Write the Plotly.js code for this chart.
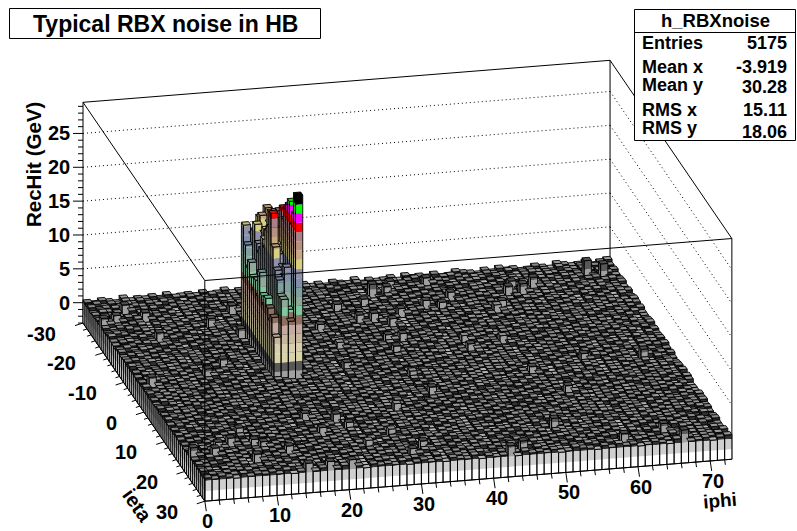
<!DOCTYPE html>
<html><head><meta charset="utf-8">
<script src="https://cdn.plot.ly/plotly-3.0.1.min.js"></script>
<style>html,body{margin:0;padding:0;background:#fff}#c{width:797px;height:531px}</style></head>
<body><div id="c"></div>
<script>
// --- values read (estimated) from the picture ---
const ietaRange=[-30,30], iphiRange=[0,73], zRange=[-3,29.6];
const floorUnit=0.12;
const floorRows=[
"3142051324150231402513042315024130421503124052314015320415230142053124035",
"1403251420315041253014250314205132041530214035120453102431502413052140312",
"4120352140531024315021403512042315304125031420514302153041203514203152041",
"0315240135024312504123051402531420135042153140253012450312403215041320514",
"2503142051304215301240352104312503421053124015230415320140523014251302451",
"1342015324105231405120342513024510342150231451032140523104253140215034120",
"3051421032514023150421305241503120451302514035214032510423015240315210453",
"2413052314205140321504132051423150243105214503120534102531420153042315024",
"0521340251304125031452013240513421053021450312405213540120342513024105231",
"4132050421352014023514203105241350312402514023150412305214032510342150231",
"1205341023514203150243152041305124032154013250413052143012540321405213054",
"3420152041325014250314021532405130241503214502314051230145230415203142051",
"5013241530420135204130251402531042153120453120351402415032150234105324013",
"2340512403150241350213425013204153024135021450312540213045132402510314205",
"1452032150423140512035214025310452130542013524130251403125041352041302154",
"0231540213405321402513041250314205324153021405213540231504213052140351240",
"3514205130241530412053124035120453140215034125031420514302153104235014325",
"4025131420512043150321405214350120345120341520314025130421503214051324052",
"1342504132051423014521034125302514032514203150421305241530412035124031502",
"2051340253104215034120513240153204135021453102451320415230145203124053102",
"3420152403125041352014305124015320412530142503140251402315042135042130514",
"0135241503214052130452103421503124035214053102435120341250314021532401325",
"5240312504231052143015230451320145230415320142051324105213405120341523042",
"1302451320514203152041305214035124503120453140215034120351420351204315024",
"4213052140351240315241023514203150243150214013052140531024315025140321052",
"2504132415023150421305241530412053124032154013250413052143012540321405213",
"0341205231450321504123054120314205130241532041250314021532405130241503214",
"3152404132501425031402153240513024150321450231405123014523041520314205102",
"1420351024153021340512403152041350213425013204153024135021450312540213045",
"5023142051302514032514203150421305241503124013524130251403125041352041302",
"2314053124035214025310452130542013524130251403125041352041302154023154021",
"4105231405213540231504213052140351240351420513024153041205312403512045314",
"0253142035120341520314025130421503214051324052025130142051204315032140521",
"3142501325041320514230145210341253025140325142031504213052415304120351240",
"1530420514023513402531042150341205132401532041350214531024513204152301452",
"2041325140213045321540132054120314205130241532041250314021532405130241503",
"4320153024513240152013425103421502312405214053102435120341250314021532401",
"0514203412504213052140351240315241023514203150243150214013052140531024315",
"3205142304152032140523104253140215034120452103421503124035214053102435120",
"1423015240315210453120351402415032150234105324013250413052143012540321405",
"5102431502413052140312053412035124503120453140215034120351420351204315024",
"2340153204135210453014203512045314025314205130241530412053124035120453140",
"0421530142053124035120453102431502413052140312234051240315024135021342501",
"3150243105214503120534102531420153042315024132050421352014023514203105241",
"1205413025140321052421305214035124315241023514203150243150214013052140531",
"4032150231405123014523041520314205102534204152031402513042150321405132405",
"2513024510342150231451032140523104253140215034120314250132504132051423014",
"0341253051421032514023150421305241503120451302514035214032510423015240315",
"3204150324105324013014250314205132041530214035120453102431502413052140312",
"1542031250341203145023140513042315024130421503124052314015320415230142053",
"2053140251304125031452013240513421053021450312405213540120342513024105231",
"4130512403152410235142031502431502140130521405310243150251403210524132050",
"0421350214531024513204152301452030514213025140321052034125302514032514203",
"3152043150214013052140531024315025140321052413205042135201402351420310524",
"1305241024153021340512403150421305214035124031524102351420315024315021401",
"5240135024312504123051402531420135042153140253012450312403215041320514031",
"2103425013204153024135021450312540213045132402510314205145203215042314051",
"4015320415230142053124035314205130241530412035124031502420513240253104215",
"0324105231405120342513024510342150231451032140523104253140215034120314250",
"3142051324150231402513042315024130421503124052314015320415230142053124035"
];
const bumpIeta=[-26,-22,-23,-23,-16,-19,-6,-3,-2,-15,22,22,-23,-26,-25,-24,-22,-22,2,22,26,29,28,29,28,11,4,1,-25,-25,-22,-21,-10,-2,13,18,8,-5,25,29,
 -27,-27,-22,-17,-17,-18,-15,-20,-19,-17,-18,-24,-6,-10,-8,-7,-15,-9,2,14,17,21,23,25,29,29,27,23,20,20,19,20,12,16];
const bumpIphi=[4,0,2,6,6,14,12,9,1,17,0,3,18,68,70,60,58,56,68,50,64,66,44,42,58,55,52,60,38,40,48,32,38,28,18,19,37,46,31,20,
 41,46,36,34,36,40,38,44,46,53,54,57,36,36,46,51,28,29,36,22,23,10,13,8,14,17,29,24,28,4,6,9,31,8];
const bumpHeight=[1.5,1.6,1.4,1.5,1.6,1.7,1.6,1.7,1.6,1.7,1.8,1.5,1.5,2.6,2.4,1.7,1.8,1.6,1.8,1.9,1.7,1.9,1.7,1.6,1.6,1.5,1.5,1.4,2.1,1.6,1.4,1.4,1.4,1.5,1.4,1.4,1.5,1.4,1.5,1.4,
 1.4,1.5,1.4,1.4,1.5,1.4,1.4,1.4,1.4,1.3,1.4,1.4,1.5,1.4,1.3,1.3,1.4,1.3,1.3,1.4,1.4,1.4,1.4,1.5,1.4,1.4,1.4,1.3,1.3,1.4,1.4,1.4,1.3,1.4];
const towerIphi=[18,19,20,21];
const towerFirstIeta=-16;
const towerHeights=[
[16.5,15.0,17.5,18.8],[14.0,16.0,18.2,17.0],[11.0,17.4,16.0,19.0],[12.3,15.0,17.0,18.0],
[10.5,14.0,16.0,20.0],[9.0,15.0,18.0,19.0],[11.0,17.0,15.0,21.0],[9.0,16.0,19.0,20.0],
[13.0,19.0,17.0,22.3],[10.0,20.0,16.0,21.0],[9.0,22.5,14.0,23.0],[10.5,18.0,15.0,24.0],
[9.5,15.0,14.0,25.0],[8.0,14.0,15.8,22.0],[9.0,12.0,10.0,24.0],[6.5,12.0,8.7,27.2]];
const bandEdges=[-3,-1.5,0,1.36,2.72,4.08,5.44,6.8,8.16,9.52,10.88,12.24,13.6,14.96,16.32,17.68,19.04,20.4,21.76,23.12,24.48,25.84,27.2,40];
const bandColors=["#ffffff","#cfcfcf","#a0a0a0","#585858","#d8d4a8","#d8cfae","#c8b8a0","#c4aaa0","#8e7060","#80c8a0","#8eaa98","#80a0a0","#8090a8","#9090a8","#d8d080","#c8a880","#b89080","#a88088","#ff0000","#ff00ff","#00ff00","#000000","#000000"];
const floorTopColors=["#b4b4b4","#949494","#8c8c8c","#848484","#888888","#989898"];
const zTicks=[0,5,10,15,20,25];
const ietaTicks=[-30,-20,-10,0,10,20,30];
const iphiTicks=[0,10,20,30,40,50,60,70];
const statsNames=["Entries","Mean x","Mean y","RMS x","RMS y"];
const statsValues=["5175","-3.919","30.28","15.11","18.06"];

// --- parallel projection of the lego box onto the page ---
const px=(p,e)=>83+7.22*(p-iphiRange[0])+2.03*(e-ietaRange[0]);
const py=(p,e,z)=>323-0.575*(p-iphiRange[0])+2.97*(e-ietaRange[0])-(z-zRange[0])*6.77;

const nE=ietaRange[1]-ietaRange[0], nP=iphiRange[1]-iphiRange[0];
const H=[], D=[];
for(let r=0;r<nE;r++){const row=[],dr=[];for(let c=0;c<nP;c++){row.push(+floorRows[r][c]*floorUnit+0.05);dr.push(+floorRows[r][c]);}H.push(row);D.push(dr);}
bumpIeta.forEach((e,i)=>{H[e-ietaRange[0]][bumpIphi[i]]=bumpHeight[i];});
towerHeights.forEach((row,r)=>row.forEach((h,c)=>{H[towerFirstIeta+r-ietaRange[0]][towerIphi[c]]=h;}));

function shade(hex,f){const n=parseInt(hex.slice(1),16);return "rgb("+[(n>>16)&255,(n>>8)&255,n&255].map(v=>Math.round(v*f)).join(",")+")";}
function bandIndex(z){let k=0;while(k<bandColors.length-1&&z>=bandEdges[k+1])k++;return k;}
const traces=[];
const lineTrace=(x,y,w,dash,col)=>({type:"scatter",mode:"lines",x,y,line:{color:col||"#000",width:w,dash:dash||"solid",simplify:false},hoverinfo:"skip",showlegend:false});
function seg(list){const x=[],y=[];list.forEach(s=>{x.push(s[0],s[2],null);y.push(s[1],s[3],null);});return {x,y};}

// back walls and z grid
const pMin=iphiRange[0],pMax=iphiRange[1],eMin=ietaRange[0],eMax=ietaRange[1],zMin=zRange[0],zMax=zRange[1];
const P=(p,e,z)=>[px(p,e),py(p,e,z)];
function L(a,b){return [a[0],a[1],b[0],b[1]];}
const gridS=[];
zTicks.slice(1).forEach(z=>{gridS.push(L(P(pMin,eMin,z),P(pMax,eMin,z)));gridS.push(L(P(pMax,eMin,z),P(pMax,eMax,z)));});
let s=seg(gridS);traces.push(lineTrace(s.x,s.y,1,"1px,3px"));
s=seg([L(P(pMin,eMin,zMin),P(pMin,eMin,zMax)),L(P(pMin,eMin,zMax),P(pMax,eMin,zMax)),L(P(pMax,eMin,zMin),P(pMax,eMin,zMax)),L(P(pMax,eMin,zMax),P(pMax,eMax,zMax)),L(P(pMax,eMax,zMin),P(pMax,eMax,zMax))]);
traces.push(lineTrace(s.x,s.y,1));

// bars, back row to front row
function add(bucket,key,col,pts){if(!bucket.has(key))bucket.set(key,{col,x:[],y:[]});const b=bucket.get(key);pts.forEach(q=>{b.x.push(q[0]);b.y.push(q[1]);});b.x.push(pts[0][0],null);b.y.push(pts[0][1],null);}
for(let r=0;r<nE;r++){
  const e0=eMin+r,e1=e0+1;
  const sides=new Map(),tops=new Map();const ex=[],ey=[];
  for(let c=nP-1;c>=0;c--){
    const p0=pMin+c,p1=p0+1,h=H[r][c];
    const hL=c>0?H[r][c-1]:zMin, hF=r<nE-1?H[r+1][c]:zMin;
    const low=h<0.9;
    const face=(lo,ax,ae,bx,be,f)=>{
      if(h<=lo)return;
      for(let k=bandIndex(lo);k<bandColors.length&&bandEdges[k]<h;k++){
        const a=Math.max(lo,bandEdges[k]),b=Math.min(h,bandEdges[k+1]);if(b<=a)continue;
        const g=(low&&k>=2)?0.3:f;
        add(sides,bandColors[k]+g,shade(bandColors[k],g),[P(ax,ae,a),P(bx,be,a),P(bx,be,b),P(ax,ae,b)]);
      }
      const o=[P(ax,ae,lo),P(bx,be,lo),P(bx,be,h),P(ax,ae,h),P(ax,ae,lo)];
      o.forEach(q=>{ex.push(q[0]);ey.push(q[1]);});ex.push(null);ey.push(null);
    };
    face(hL,p0,e0,p0,e1,0.78);
    face(hF,p0,e1,p1,e1,1);
    const k=bandIndex(h);
    const key=low?D[r][c]*0.01:k;
    const col=low?floorTopColors[D[r][c]]:shade(bandColors[k],0.9);
    add(tops,key,col,[P(p0,e0,h),P(p1,e0,h),P(p1,e1,h),P(p0,e1,h)]);
  }
  sides.forEach(b=>traces.push({type:"scatter",mode:"lines",x:b.x,y:b.y,fill:"toself",fillcolor:b.col,line:{width:0,color:b.col,simplify:false},hoverinfo:"skip",showlegend:false}));
  traces.push(lineTrace(ex,ey,0.9));
  [...tops.keys()].sort((a,b)=>a-b).forEach(k=>{const b=tops.get(k);traces.push({type:"scatter",mode:"lines",x:b.x,y:b.y,fill:"toself",fillcolor:b.col,line:{width:0.9,color:"#000",simplify:false},hoverinfo:"skip",showlegend:false});});
}

// front frame and axes
s=seg([L(P(pMin,eMin,zMax),P(pMin,eMax,zMax)),L(P(pMin,eMax,zMax),P(pMax,eMax,zMax)),L(P(pMin,eMax,zMin),P(pMin,eMax,zMax)),L(P(pMin,eMin,zMin),P(pMin,eMax,zMin)),L(P(pMin,eMax,zMin),P(pMax,eMax,zMin))]);
traces.push(lineTrace(s.x,s.y,1));
const tickS=[];
const annotations=[];
const T=(text,x,y,size,anchor,rot)=>annotations.push({text,x,y,xref:"x",yref:"y",showarrow:false,xanchor:anchor||"center",yanchor:"middle",textangle:rot||0,font:{family:"Liberation Sans",size,color:"#000",weight:700},borderpad:0,borderwidth:0});
for(let z=zMin;z<=zMax;z++){const q=P(pMin,eMin,z);const len=z%5===0?10:5;tickS.push([q[0],q[1],q[0]-len,q[1]]);}
zTicks.forEach(z=>{const q=P(pMin,eMin,z);T(String(z),q[0]-13,q[1],20,"right");});
for(let e=eMin;e<=eMax;e+=2){const q=P(pMin,e,zMin);const f=e%10===0?1:.5;tickS.push([q[0],q[1],q[0]-8*f,q[1]+2.6*f]);}
ietaTicks.forEach(e=>{const q=P(pMin,e,zMin);T(String(e),q[0]-27,q[1]+10.5,20,"right");});
for(let p=pMin;p<=pMax-1;p+=2){const q=P(p,eMax,zMin);const f=p%10===0?1:.5;tickS.push([q[0],q[1],q[0]+1.5*f,q[1]+10*f]);}
iphiTicks.forEach(p=>{const q=P(p,eMax,zMin);T(String(p),q[0]+3,q[1]+20,20,"center");});
s=seg(tickS);traces.push(lineTrace(s.x,s.y,1));

T("RecHit (GeV)",33,165,20.5,"center",-90);
T("ieta",137,505,20,"center",55);
T("iphi",720,500,19,"center",-5);
T("Typical RBX noise in HB",165,23.5,23,"center");
T("h_RBXnoise",715,20,18.5,"center");
const statY=[43,67,85,110,128], statVY=[43,67,87,110,132];
statsNames.forEach((n,i)=>{T(n,642,statY[i],18,"left");T(statsValues[i],787,statVY[i],18,"right");});

const rect=(x0,y0,x1,y1)=>({type:"rect",xref:"x",yref:"y",x0,y0,x1,y1,fillcolor:"#fff",line:{color:"#000",width:1},layer:"above"});
const layout={width:797,height:531,margin:{l:0,r:0,t:0,b:0},paper_bgcolor:"#fff",plot_bgcolor:"#fff",showlegend:false,
 xaxis:{range:[0,797],visible:false,fixedrange:true},yaxis:{range:[531,0],visible:false,fixedrange:true},
 shapes:[rect(9.5,8.5,320.5,38.5),rect(634.5,9.5,795.5,140.5),{type:"line",xref:"x",yref:"y",x0:634.5,x1:795.5,y0:32.5,y1:32.5,line:{color:"#000",width:1},layer:"above"}],
 annotations};
Plotly.newPlot("c",traces,layout,{displayModeBar:false,staticPlot:true});
</script></body></html>
